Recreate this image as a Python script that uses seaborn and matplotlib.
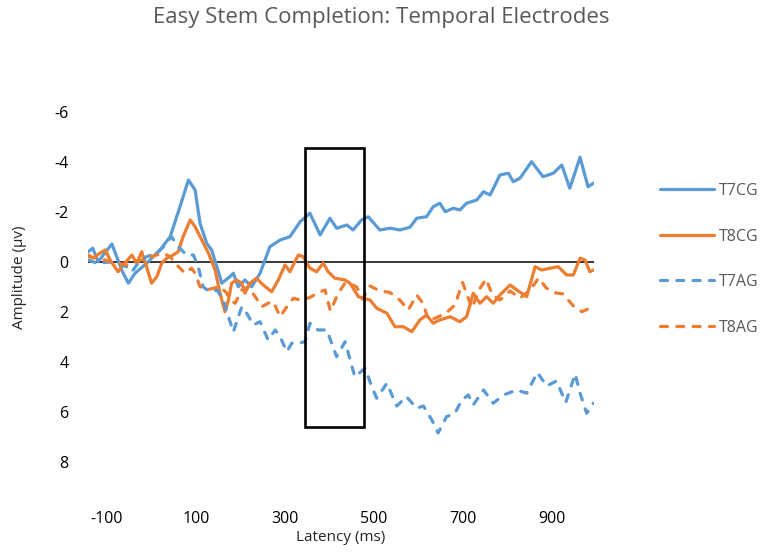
import pandas as pd
import seaborn as sns
import matplotlib.pyplot as plt
from matplotlib.patches import Rectangle

# latency (ms) / amplitude (uV)
t7cg_ms = [-142, -132, -120, -89, -67, -52, -37, -11, 19, 42, 64, 83, 98, 109, 124, 135, 147, 158,
           176, 184, 195, 210, 225, 244, 266, 289, 311, 334, 356, 379, 401, 416, 439, 453, 472, 487,
           513, 536, 558, 581, 596, 618, 633, 648, 660, 678, 693, 708, 731, 746, 761, 783, 802, 813,
           828, 854, 880, 903, 922, 940, 963, 981, 993]
t7cg_uv = [-0.41, -0.55, -0.01, -0.72, 0.32, 0.85, 0.45, 0.05, -0.48, -1.01, -2.21, -3.28, -2.88,
           -1.55, -0.75, -0.48, 0.19, 0.85, 0.59, 0.45, 0.99, 0.72, 0.99, 0.45, -0.61, -0.88, -1.01,
           -1.61, -1.95, -1.08, -1.75, -1.35, -1.48, -1.28, -1.68, -1.81, -1.28, -1.35, -1.28, -1.39,
           -1.75, -1.81, -2.21, -2.35, -2.01, -2.15, -2.08, -2.35, -2.48, -2.81, -2.68, -3.48, -3.55,
           -3.21, -3.35, -4.01, -3.41, -3.55, -3.88, -2.95, -4.19, -3.01, -3.15]

t8cg_ms = [-142, -131, -116, -104, -93, -75, -60, -44, -33, -22, -11, 0, 12, 23, 34, 49, 60, 71, 87,
           98, 113, 128, 143, 154, 165, 173, 180, 191, 203, 210, 221, 236, 251, 270, 285, 300, 311,
           330, 341, 356, 371, 386, 397, 412, 435, 446, 465, 476, 491, 506, 529, 547, 566, 585, 603,
           618, 633, 648, 671, 693, 708, 723, 738, 753, 768, 783, 806, 821, 843, 862, 877, 896, 914,
           933, 948, 963, 974, 985, 993]
t8cg_uv = [-0.28, -0.15, -0.35, -0.48, -0.08, 0.39, 0.05, -0.28, 0.05, -0.41, 0.19, 0.85, 0.59,
           0.05, -0.15, -0.28, -0.41, -1.01, -1.68, -1.41, -0.88, -0.35, 0.32, 1.25, 1.99, 1.52,
           0.85, 0.72, 0.85, 1.25, 0.85, 0.65, 0.92, 1.19, 0.72, 0.12, 0.39, -0.28, -0.21, 0.25,
           0.39, 0.05, 0.39, 0.65, 0.72, 0.85, 1.39, 1.45, 1.52, 1.85, 2.05, 2.59, 2.59, 2.79, 2.32,
           2.12, 2.45, 2.32, 2.19, 2.39, 2.19, 1.25, 1.65, 1.39, 1.65, 1.32, 0.92, 1.12, 1.39, 0.19,
           0.32, 0.25, 0.19, 0.52, 0.52, -0.15, -0.08, 0.39, 0.32]

t7ag_ms = [-142, -123, -93, -56, -44, -33, -11, 12, 27, 45, 60, 79, 94, 105, 116, 131, 147, 161,
           173, 184, 195, 203, 214, 229, 244, 262, 278, 289, 304, 315, 330, 345, 356, 374, 394, 416,
           435, 457, 480, 495, 506, 529, 551, 573, 596, 611, 630, 644, 663, 682, 697, 712, 723, 746,
           768, 791, 821, 843, 867, 888, 910, 931, 952, 963, 978, 993]
t7ag_uv = [-0.08, 0.05, 0.0, 0.19, 0.39, 0.12, -0.21, -0.35, -0.61, -1.01, -0.61, -0.28, -0.28,
           0.19, 0.99, 1.2, 1.12, 1.52, 2.19, 2.8, 2.19, 1.79, 2.05, 2.52, 2.39, 3.12, 2.72, 2.99,
           3.59, 3.25, 3.25, 3.19, 2.45, 2.72, 2.72, 3.79, 3.19, 4.59, 4.25, 4.99, 5.45, 4.85, 5.76,
           5.39, 5.85, 5.76, 6.32, 6.84, 6.19, 6.05, 5.52, 5.32, 5.72, 5.12, 5.65, 5.32, 5.12, 5.25,
           4.42, 4.96, 4.76, 5.62, 4.48, 5.25, 6.05, 5.65]

t8ag_ms = [-142, -116, -93, -75, -56, -33, -11, 12, 27, 42, 57, 75, 90, 98, 109, 124, 139, 154,
           169, 176, 188, 203, 218, 233, 248, 262, 274, 289, 304, 319, 334, 356, 375, 390, 402, 420,
           435, 446, 461, 474, 491, 513, 536, 558, 577, 596, 611, 622, 639, 662, 682, 699, 710, 720,
           738, 752, 766, 783, 806, 828, 851, 870, 887, 903, 925, 948, 967, 993]
t8ag_uv = [-0.21, -0.15, -0.01, 0.05, 0.12, -0.01, -0.16, -0.28, -0.35, -0.21, 0.12, 0.45, 0.25,
           0.45, 0.99, 1.12, 1.05, 0.99, 1.24, 1.52, 1.65, 1.12, 0.99, 1.39, 1.79, 1.65, 1.59, 2.19,
           1.79, 1.45, 1.52, 1.42, 1.22, 1.12, 1.96, 1.24, 0.84, 0.85, 1.0, 1.48, 0.96, 1.16, 1.22,
           1.52, 1.92, 1.32, 1.68, 2.32, 2.24, 2.04, 1.72, 0.82, 1.36, 1.84, 1.06, 0.68, 1.32, 1.52,
           1.16, 1.45, 1.12, 0.64, 1.04, 1.22, 1.28, 1.76, 1.99, 1.79]

series = ['T7CG', 'T8CG', 'T7AG', 'T8AG']
blue = '#5B9BD5'
orange = '#ED7D31'

frames = []
for name, xs, ys in [('T7CG', t7cg_ms, t7cg_uv), ('T8CG', t8cg_ms, t8cg_uv),
                     ('T7AG', t7ag_ms, t7ag_uv), ('T8AG', t8ag_ms, t8ag_uv)]:
    frames.append(pd.DataFrame({'Latency (ms)': xs, 'Amplitude': ys, 'Series': name}))
df = pd.concat(frames, ignore_index=True)

sns.set_style('white')
plt.rcParams['font.family'] = ['Open Sans', 'DejaVu Sans']
plt.rcParams['axes.unicode_minus'] = False

fig = plt.figure(figsize=(7.62, 5.52), dpi=100)
ax = fig.add_axes([0.1153, 0.0861, 0.6646, 0.7201])

ax.axhline(0, color='black', lw=1.1, zorder=1)

dash = (2.2, 2.9)
sns.lineplot(data=df, x='Latency (ms)', y='Amplitude', hue='Series', style='Series',
             hue_order=series, style_order=series,
             palette={'T7CG': blue, 'T8CG': orange, 'T7AG': blue, 'T8AG': orange},
             dashes={'T7CG': '', 'T8CG': '', 'T7AG': dash, 'T8AG': dash},
             estimator=None, sort=True, lw=2.3, ax=ax, zorder=3)
for line in ax.get_lines()[1:]:
    line.set_dash_capstyle('round')
    line.set_solid_capstyle('round')
    line.set_solid_joinstyle('round')

# highlighted window
ax.add_patch(Rectangle((346, -4.55), 131, 11.15, fill=False, edgecolor='black', lw=1.9, zorder=4))

ax.set_xlim(-143, 995)
ax.set_ylim(9.7, -6.2)
ax.set_xticks(range(-100, 1000, 200))
ax.set_yticks(range(-6, 10, 2))
ax.tick_params(axis='both', length=0, labelsize=11.5, colors='black')
ax.tick_params(axis='y', pad=14)
ax.tick_params(axis='x', pad=5)
for s in ax.spines.values():
    s.set_visible(False)

ax.set_xlabel('Latency (ms)', fontsize=11, va='center')
ax.xaxis.set_label_coords(0.5, -0.084)
ax.set_ylabel('Amplitude (\u03bcv)', fontsize=11, va='center')
ax.yaxis.set_label_coords(-0.134, 0.572)

fig.text(0.5, 1 - 18 / 552, 'Easy Stem Completion: Temporal Electrodes', ha='center', va='center',
         fontsize=16, color='#595959')

handles, labels = ax.get_legend_handles_labels()
for h in handles:
    h.set_dash_capstyle('round')
leg = ax.legend(handles, labels, loc='upper left', bbox_to_anchor=(652 / 762, 1 - 175 / 552),
                bbox_transform=fig.transFigure, frameon=False, fontsize=11.5, handlelength=3.4,
                labelspacing=1.85, borderpad=0, handletextpad=0.3)
for t in leg.get_texts():
    t.set_color('#595959')

fig.savefig('out.png', dpi=100)
